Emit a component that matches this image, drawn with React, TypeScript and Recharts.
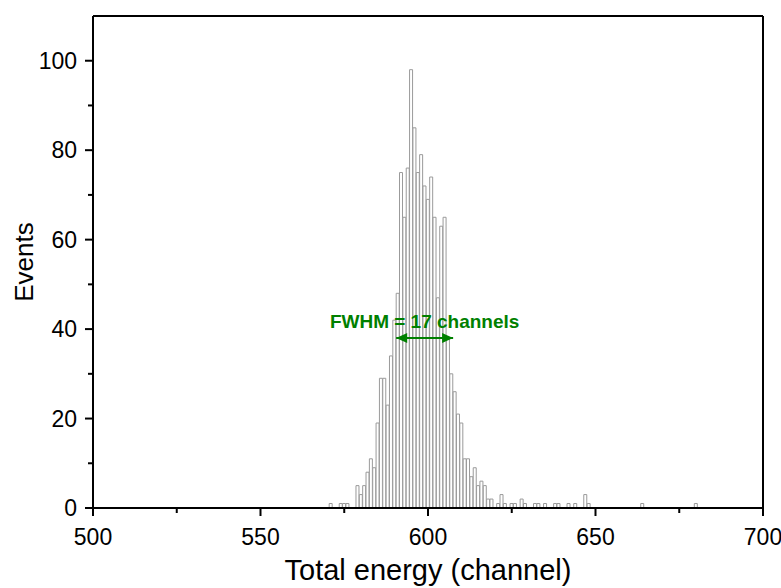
import React from 'react';
import { BarChart, Bar, XAxis, YAxis, ReferenceLine } from 'recharts';

// histogram bins (channel centre) and their event counts, empty bins left out
const channels = [
  571, 574, 575, 576, 579, 580, 581, 582, 583, 584, 585, 586, 587, 588, 589, 590,
  591, 592, 593, 594, 595, 596, 597, 598, 599, 600, 601, 602, 603, 604, 605, 606,
  607, 608, 609, 610, 611, 612, 613, 614, 615, 616, 617, 618, 619, 621, 622, 623,
  625, 626, 628, 629, 632, 633, 635, 638, 639, 642, 644, 647, 648, 664, 680,
];
const counts = [
  1, 1, 1, 1, 5, 3, 5, 8, 11, 9, 19, 29, 29, 23, 34, 42,
  48, 75, 65, 76, 98, 85, 75, 79, 72, 69, 74, 65, 47, 63, 65, 38,
  30, 26, 21, 19, 11, 11, 7, 9, 5, 6, 5, 2, 2, 1, 3, 1,
  1, 1, 2, 1, 1, 1, 1, 1, 1, 1, 1, 3, 1, 1, 1,
];

const xTicks = [500, 525, 550, 575, 600, 625, 650, 675, 700];
const xLabels = [500, 550, 600, 650, 700];
const yTicks = [0, 10, 20, 30, 40, 50, 60, 70, 80, 90, 100];
const yLabels = [0, 20, 40, 60, 80, 100];

// FWHM marker
const fwhmText = 'FWHM = 17 channels';
const fwhmFrom = 590.5;
const fwhmTo = 607.5;
const fwhmLevel = 38;

const data = channels.map((c, i) => ({ channel: c, events: counts[i] }));

const FONT = '"Liberation Sans", Arial, sans-serif';
const GREEN = '#008000';

const XTick = (props: any) => {
  const { x, y, payload } = props;
  const major = xLabels.includes(payload.value);
  return (
    <g>
      <line x1={x} x2={x} y1={y} y2={y + (major ? 8 : 5)} stroke="#000" strokeWidth={2} />
      {major && (
        <text x={x} y={y + 37} textAnchor="middle" fontSize={23} fontFamily={FONT} fill="#000">
          {payload.value}
        </text>
      )}
    </g>
  );
};

const YTick = (props: any) => {
  const { x, y, payload } = props;
  const major = yLabels.includes(payload.value);
  return (
    <g>
      <line x1={x} x2={x - (major ? 8 : 5)} y1={y} y2={y} stroke="#000" strokeWidth={2} />
      {major && (
        <text x={x - 16} y={y + 8} textAnchor="end" fontSize={23} fontFamily={FONT} fill="#000">
          {payload.value}
        </text>
      )}
    </g>
  );
};

const XTitle = (props: any) => {
  const { viewBox } = props;
  return (
    <text x={viewBox.x + viewBox.width / 2} y={viewBox.y + 72} textAnchor="middle"
      fontSize={29} fontFamily={FONT} fill="#000">
      Total energy (channel)
    </text>
  );
};

const YTitle = (props: any) => {
  const { viewBox } = props;
  const cx = viewBox.x + 33;
  const cy = viewBox.y + viewBox.height / 2;
  return (
    <text x={cx} y={cy} transform={`rotate(-90, ${cx}, ${cy})`} textAnchor="middle"
      fontSize={26} fontFamily={FONT} fill="#000">
      Events
    </text>
  );
};

const FwhmLabel = (props: any) => {
  const { viewBox } = props;
  const x1 = viewBox.x;
  const x2 = viewBox.x + viewBox.width;
  const y = viewBox.y;
  return (
    <g>
      <polygon points={`${x1},${y} ${x1 + 11},${y - 5} ${x1 + 11},${y + 5}`} fill={GREEN} />
      <polygon points={`${x2},${y} ${x2 - 11},${y - 5} ${x2 - 11},${y + 5}`} fill={GREEN} />
      <text x={(x1 + x2) / 2} y={y - 10} textAnchor="middle" fontSize={19} fontWeight="bold"
        fontFamily={FONT} fill={GREEN}>
        {fwhmText}
      </text>
    </g>
  );
};

export default function App() {
  return (
    <div style={{ position: 'absolute', left: 0, top: 0, background: '#fff' }}>
      <BarChart width={781} height={588} data={data}
        margin={{ top: 16, right: 18, left: 0, bottom: 0 }}
        barCategoryGap={0} barGap={0}>
        <XAxis dataKey="channel" type="number" domain={[500, 700]} ticks={xTicks}
          interval={0} allowDataOverflow height={80}
          axisLine={{ stroke: '#000', strokeWidth: 2 }} tickLine={false}
          tickSize={0} tickMargin={0} tick={<XTick />} label={<XTitle />} />
        <YAxis type="number" domain={[0, 110]} ticks={yTicks} interval={0}
          allowDataOverflow width={93}
          axisLine={{ stroke: '#000', strokeWidth: 2 }} tickLine={false}
          tickSize={0} tickMargin={0} tick={<YTick />} label={<YTitle />} />
        <Bar dataKey="events" fill="#fff" stroke="#9a9a9a" strokeWidth={1}
          isAnimationActive={false} />
        <ReferenceLine y={110} stroke="#000" strokeWidth={2} />
        <ReferenceLine x={700} stroke="#000" strokeWidth={2} />
        <ReferenceLine
          segment={[{ x: fwhmFrom, y: fwhmLevel }, { x: fwhmTo, y: fwhmLevel }]}
          stroke={GREEN} strokeWidth={2} label={<FwhmLabel />} />
      </BarChart>
    </div>
  );
}
